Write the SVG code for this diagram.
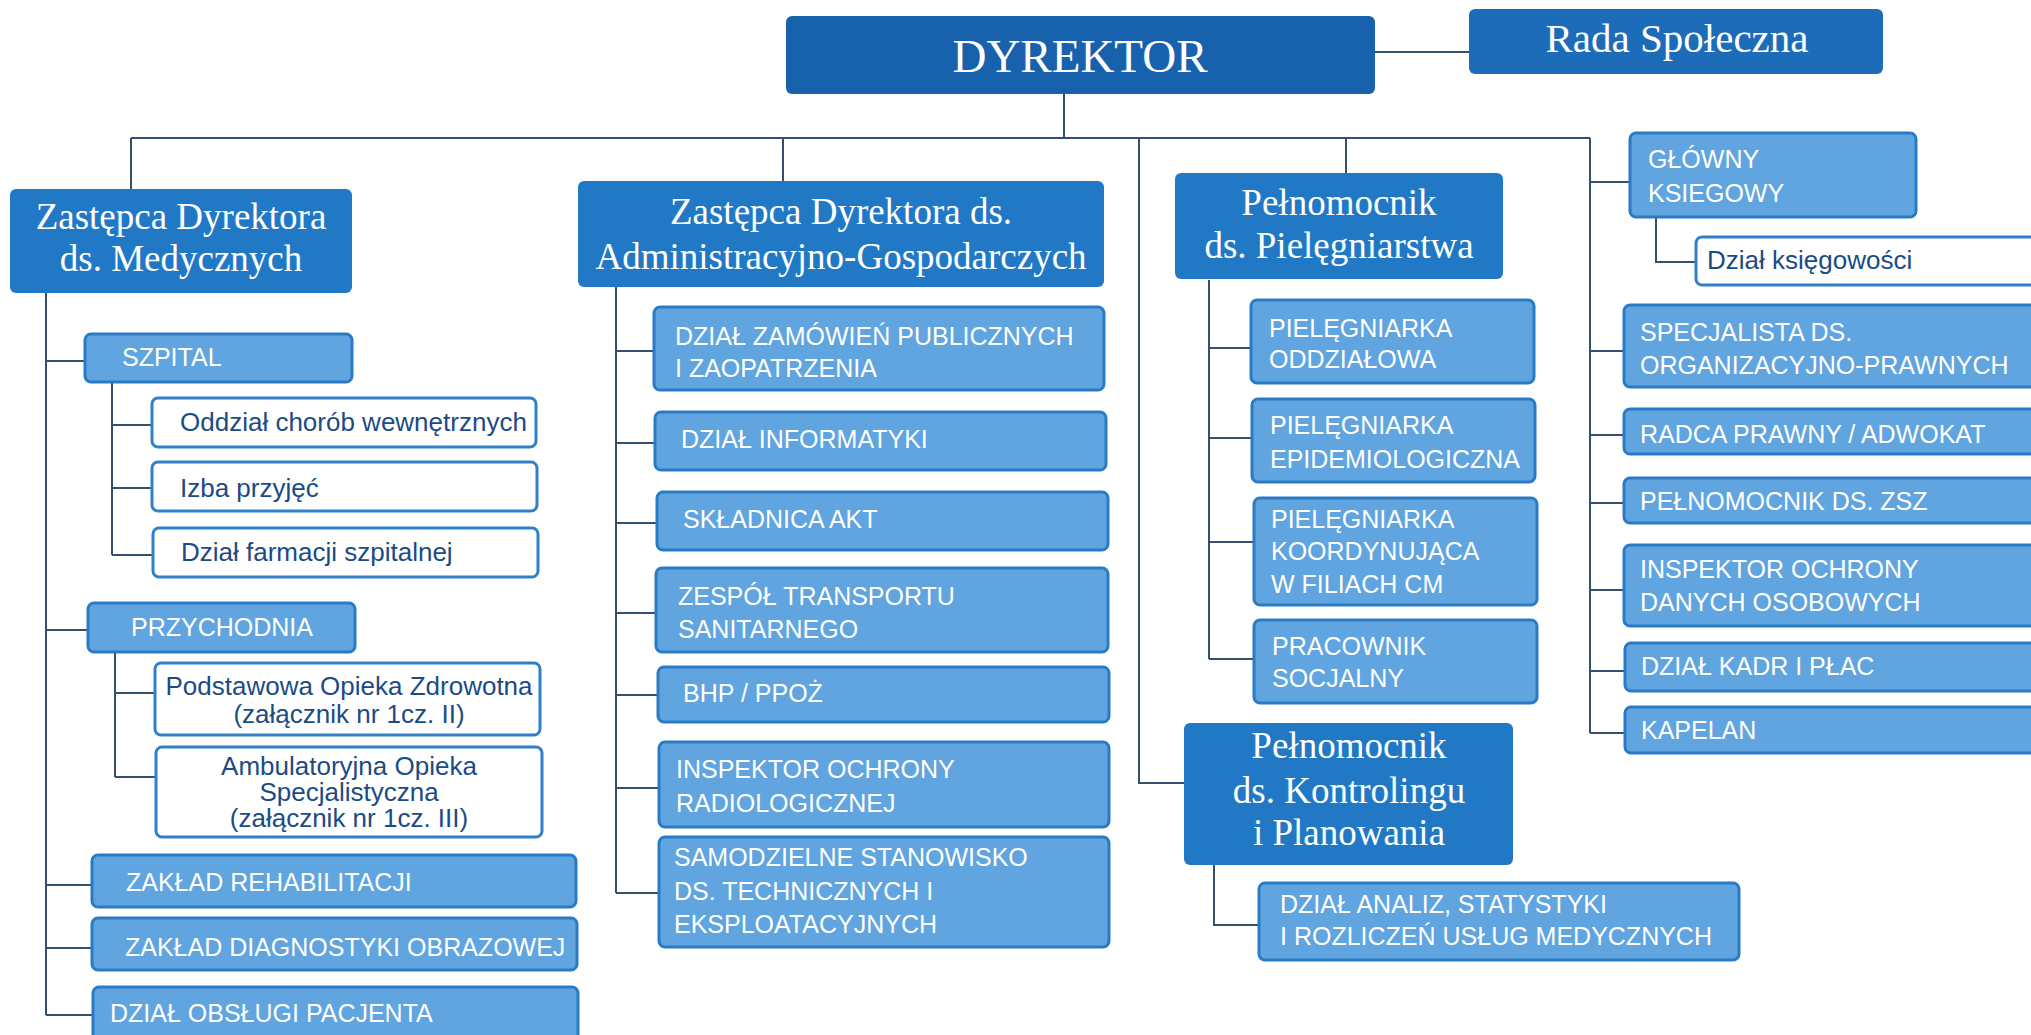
<svg xmlns="http://www.w3.org/2000/svg" width="2031" height="1035" viewBox="0 0 2031 1035">
<style>
.bg{fill:#ffffff}
.top{fill:#1862ad}
.l2{fill:#2179c6}
.lt{fill:#60a4e0;stroke:#2a7bc5;stroke-width:3}
.wt{fill:#ffffff;stroke:#2f80c9;stroke-width:3}
.sf{font-family:"Liberation Serif","Times New Roman",serif;fill:#ffffff;text-anchor:middle}
.ss{font-family:"Liberation Sans",Arial,sans-serif;font-size:25px;fill:#ffffff}
.dk{fill:#1b4b85;font-size:26px}
.mid{text-anchor:middle}
.conn path{stroke:#34506e;stroke-width:2;fill:none}
</style>
<rect class="bg" x="0" y="0" width="2031" height="1035"/>
<g id="connectors" class="conn">
<path d="M1375 52 H1469"/>
<path d="M1064 94 V138"/>
<path d="M131 138 H1590"/>
<path d="M131 138 V189"/>
<path d="M783 138 V181"/>
<path d="M1346 138 V173"/>
<path d="M1139 138 V783 H1184"/>
<path d="M1590 138 V733"/>
<path d="M1590 182 H1630"/>
<path d="M1656 217 V262 H1696"/>
<path d="M1590 351 H1624"/>
<path d="M1590 435 H1624"/>
<path d="M1590 503 H1624"/>
<path d="M1590 590 H1624"/>
<path d="M1590 671 H1625"/>
<path d="M1590 733 H1625"/>
<path d="M46 293 V1015"/>
<path d="M46 361 H85"/>
<path d="M46 630 H88"/>
<path d="M46 885 H92"/>
<path d="M46 948 H92"/>
<path d="M46 1015 H93"/>
<path d="M112 382 V555"/>
<path d="M112 425 H152"/>
<path d="M112 488 H152"/>
<path d="M112 555 H153"/>
<path d="M115 652 V777"/>
<path d="M115 693 H155"/>
<path d="M115 777 H156"/>
<path d="M616 287 V893"/>
<path d="M616 351 H654"/>
<path d="M616 443 H655"/>
<path d="M616 523 H657"/>
<path d="M616 613 H656"/>
<path d="M616 695 H658"/>
<path d="M616 788 H659"/>
<path d="M616 893 H659"/>
<path d="M1209 280 V659"/>
<path d="M1209 348 H1251"/>
<path d="M1209 438 H1252"/>
<path d="M1209 542 H1254"/>
<path d="M1209 659 H1254"/>
<path d="M1214 865 V925 H1259"/>
</g>

<g id="dyrektor"><rect class="top" x="786" y="16" width="589" height="78" rx="6"/><text class="sf" x="1080" y="72" font-size="47">DYREKTOR</text></g>
<g id="rada"><rect class="top" x="1469" y="9" width="414" height="65" rx="6" style="fill:#1d6cb9"/><text class="sf" x="1677" y="52" font-size="41">Rada Społeczna</text></g>

<g id="zast-med"><rect class="l2" x="10" y="189" width="342" height="104" rx="6"/><text class="sf" font-size="37"><tspan x="181" y="229">Zastępca Dyrektora</tspan><tspan x="181" y="271">ds. Medycznych</tspan></text></g>
<g id="zast-adm"><rect class="l2" x="578" y="181" width="526" height="106" rx="6"/><text class="sf" font-size="37"><tspan x="841" y="224">Zastępca Dyrektora ds.</tspan><tspan x="841" y="269">Administracyjno-Gospodarczych</tspan></text></g>
<g id="pel-piel"><rect class="l2" x="1175" y="173" width="328" height="106" rx="6"/><text class="sf" font-size="37"><tspan x="1339" y="215">Pełnomocnik</tspan><tspan x="1339" y="258">ds. Pielęgniarstwa</tspan></text></g>
<g id="pel-kontr"><rect class="l2" x="1184" y="723" width="329" height="142" rx="6"/><text class="sf" font-size="37"><tspan x="1349" y="758">Pełnomocnik</tspan><tspan x="1349" y="803">ds. Kontrolingu</tspan><tspan x="1349" y="845">i Planowania</tspan></text></g>

<g id="glowny"><rect class="lt" x="1630" y="133" width="286" height="84" rx="6"/><text class="ss"><tspan x="1648" y="168">GŁÓWNY</tspan><tspan x="1648" y="202">KSIEGOWY</tspan></text></g>
<g id="ksiegowosc"><rect class="wt" x="1696" y="237" width="360" height="48" rx="6"/><text class="ss dk" x="1707" y="269">Dział księgowości</text></g>
<g id="specjalista"><rect class="lt" x="1624" y="305" width="430" height="82" rx="6"/><text class="ss"><tspan x="1640" y="341">SPECJALISTA DS.</tspan><tspan x="1640" y="374">ORGANIZACYJNO-PRAWNYCH</tspan></text></g>
<g id="radca"><rect class="lt" x="1624" y="409" width="430" height="45" rx="6"/><text class="ss" x="1640" y="443">RADCA PRAWNY / ADWOKAT</text></g>
<g id="zsz"><rect class="lt" x="1624" y="478" width="430" height="45" rx="6"/><text class="ss" x="1640" y="510">PEŁNOMOCNIK DS. ZSZ</text></g>
<g id="iodo"><rect class="lt" x="1624" y="545" width="430" height="81" rx="6"/><text class="ss"><tspan x="1640" y="578">INSPEKTOR OCHRONY</tspan><tspan x="1640" y="611">DANYCH OSOBOWYCH</tspan></text></g>
<g id="kadry"><rect class="lt" x="1625" y="643" width="430" height="48" rx="6"/><text class="ss" x="1641" y="675">DZIAŁ KADR I PŁAC</text></g>
<g id="kapelan"><rect class="lt" x="1625" y="707" width="430" height="46" rx="6"/><text class="ss" x="1641" y="739">KAPELAN</text></g>

<g id="szpital"><rect class="lt" x="85" y="334" width="267" height="48" rx="6"/><text class="ss" x="122" y="366">SZPITAL</text></g>
<g id="oddzial"><rect class="wt" x="152" y="398" width="384" height="49" rx="6"/><text class="ss dk" x="180" y="431">Oddział chorób wewnętrznych</text></g>
<g id="izba"><rect class="wt" x="152" y="462" width="385" height="49" rx="6"/><text class="ss dk" x="180" y="497">Izba przyjęć</text></g>
<g id="farmacja"><rect class="wt" x="153" y="528" width="385" height="49" rx="6"/><text class="ss dk" x="181" y="561">Dział farmacji szpitalnej</text></g>
<g id="przychodnia"><rect class="lt" x="88" y="603" width="267" height="49" rx="6"/><text class="ss" x="131" y="636">PRZYCHODNIA</text></g>
<g id="poz"><rect class="wt" x="155" y="663" width="385" height="72" rx="6"/><text class="ss dk mid"><tspan x="349" y="695">Podstawowa Opieka Zdrowotna</tspan><tspan x="349" y="723">(załącznik nr 1cz. II)</tspan></text></g>
<g id="aos"><rect class="wt" x="156" y="747" width="386" height="90" rx="6"/><text class="ss dk mid"><tspan x="349" y="775">Ambulatoryjna Opieka</tspan><tspan x="349" y="801">Specjalistyczna</tspan><tspan x="349" y="827">(załącznik nr 1cz. III)</tspan></text></g>
<g id="rehab"><rect class="lt" x="92" y="855" width="484" height="52" rx="6"/><text class="ss" x="126" y="891">ZAKŁAD REHABILITACJI</text></g>
<g id="diag"><rect class="lt" x="92" y="918" width="485" height="52" rx="6"/><text class="ss" x="125" y="956">ZAKŁAD DIAGNOSTYKI OBRAZOWEJ</text></g>
<g id="obsluga"><rect class="lt" x="93" y="987" width="485" height="62" rx="6"/><text class="ss" x="110" y="1022">DZIAŁ OBSŁUGI PACJENTA</text></g>

<g id="zamowienia"><rect class="lt" x="654" y="307" width="450" height="83" rx="6"/><text class="ss"><tspan x="675" y="345">DZIAŁ ZAMÓWIEŃ PUBLICZNYCH</tspan><tspan x="675" y="377">I ZAOPATRZENIA</tspan></text></g>
<g id="informatyka"><rect class="lt" x="655" y="412" width="451" height="58" rx="6"/><text class="ss" x="681" y="448">DZIAŁ INFORMATYKI</text></g>
<g id="skladnica"><rect class="lt" x="657" y="492" width="451" height="58" rx="6"/><text class="ss" x="683" y="528">SKŁADNICA AKT</text></g>
<g id="transport"><rect class="lt" x="656" y="568" width="452" height="84" rx="6"/><text class="ss"><tspan x="678" y="605">ZESPÓŁ TRANSPORTU</tspan><tspan x="678" y="638">SANITARNEGO</tspan></text></g>
<g id="bhp"><rect class="lt" x="658" y="667" width="451" height="55" rx="6"/><text class="ss" x="683" y="702">BHP / PPOŻ</text></g>
<g id="radiologia"><rect class="lt" x="659" y="742" width="450" height="85" rx="6"/><text class="ss"><tspan x="676" y="778">INSPEKTOR OCHRONY</tspan><tspan x="676" y="812">RADIOLOGICZNEJ</tspan></text></g>
<g id="techniczne"><rect class="lt" x="659" y="837" width="450" height="110" rx="6"/><text class="ss"><tspan x="674" y="866">SAMODZIELNE STANOWISKO</tspan><tspan x="674" y="900">DS. TECHNICZNYCH I</tspan><tspan x="674" y="933">EKSPLOATACYJNYCH</tspan></text></g>

<g id="oddzialowa"><rect class="lt" x="1251" y="300" width="283" height="83" rx="6"/><text class="ss"><tspan x="1269" y="337">PIELĘGNIARKA</tspan><tspan x="1269" y="368">ODDZIAŁOWA</tspan></text></g>
<g id="epidem"><rect class="lt" x="1252" y="399" width="283" height="83" rx="6"/><text class="ss"><tspan x="1270" y="434">PIELĘGNIARKA</tspan><tspan x="1270" y="468">EPIDEMIOLOGICZNA</tspan></text></g>
<g id="koord"><rect class="lt" x="1254" y="498" width="283" height="107" rx="6"/><text class="ss"><tspan x="1271" y="528">PIELĘGNIARKA</tspan><tspan x="1271" y="560">KOORDYNUJĄCA</tspan><tspan x="1271" y="593">W FILIACH CM</tspan></text></g>
<g id="socjalny"><rect class="lt" x="1254" y="620" width="283" height="83" rx="6"/><text class="ss"><tspan x="1272" y="655">PRACOWNIK</tspan><tspan x="1272" y="687">SOCJALNY</tspan></text></g>

<g id="analizy"><rect class="lt" x="1259" y="883" width="480" height="77" rx="6"/><text class="ss"><tspan x="1280" y="913">DZIAŁ ANALIZ, STATYSTYKI</tspan><tspan x="1280" y="945">I ROZLICZEŃ USŁUG MEDYCZNYCH</tspan></text></g>
</svg>
